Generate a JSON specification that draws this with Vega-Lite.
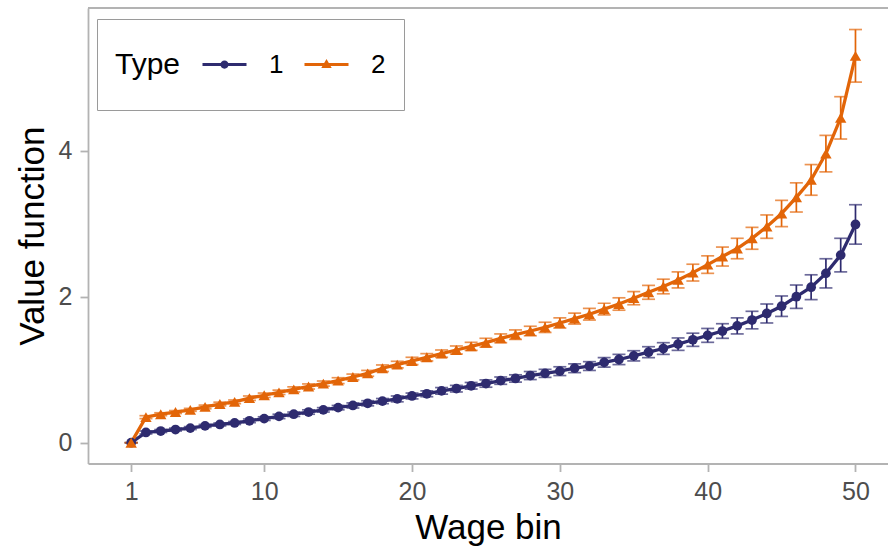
{
  "$schema": "https://vega.github.io/schema/vega-lite/v6.json",
  "width": 800,
  "height": 455.5,
  "autosize": {"type": "none"},
  "padding": {"left": 88, "top": 8, "right": 0, "bottom": 84.5},
  "background": "white",
  "config": {
    "view": {"stroke": null},
    "font": "Liberation Sans",
    "axis": {
      "grid": false,
      "domainColor": "#B3B3B3",
      "domainWidth": 1.8,
      "tickColor": "#B3B3B3",
      "tickWidth": 1.8,
      "tickSize": 8,
      "labelFontSize": 25,
      "labelColor": "#4D4D4D",
      "labelPadding": 8,
      "titleFontSize": 35,
      "titleFontWeight": "normal",
      "titleColor": "black"
    }
  },
  "data": {
    "values": [
      {"bin": 1, "type": "1", "value": 0.0, "lo": 0.0, "hi": 0.0},
      {"bin": 2, "type": "1", "value": 0.14, "lo": 0.12, "hi": 0.16},
      {"bin": 3, "type": "1", "value": 0.16, "lo": 0.14, "hi": 0.18},
      {"bin": 4, "type": "1", "value": 0.18, "lo": 0.16, "hi": 0.20},
      {"bin": 5, "type": "1", "value": 0.20, "lo": 0.18, "hi": 0.22},
      {"bin": 6, "type": "1", "value": 0.23, "lo": 0.21, "hi": 0.25},
      {"bin": 7, "type": "1", "value": 0.25, "lo": 0.23, "hi": 0.27},
      {"bin": 8, "type": "1", "value": 0.27, "lo": 0.25, "hi": 0.29},
      {"bin": 9, "type": "1", "value": 0.30, "lo": 0.275, "hi": 0.325},
      {"bin": 10, "type": "1", "value": 0.33, "lo": 0.305, "hi": 0.355},
      {"bin": 11, "type": "1", "value": 0.36, "lo": 0.33, "hi": 0.39},
      {"bin": 12, "type": "1", "value": 0.39, "lo": 0.36, "hi": 0.42},
      {"bin": 13, "type": "1", "value": 0.42, "lo": 0.39, "hi": 0.45},
      {"bin": 14, "type": "1", "value": 0.45, "lo": 0.42, "hi": 0.48},
      {"bin": 15, "type": "1", "value": 0.48, "lo": 0.45, "hi": 0.51},
      {"bin": 16, "type": "1", "value": 0.51, "lo": 0.475, "hi": 0.545},
      {"bin": 17, "type": "1", "value": 0.54, "lo": 0.505, "hi": 0.575},
      {"bin": 18, "type": "1", "value": 0.57, "lo": 0.535, "hi": 0.605},
      {"bin": 19, "type": "1", "value": 0.60, "lo": 0.56, "hi": 0.64},
      {"bin": 20, "type": "1", "value": 0.64, "lo": 0.60, "hi": 0.68},
      {"bin": 21, "type": "1", "value": 0.67, "lo": 0.63, "hi": 0.71},
      {"bin": 22, "type": "1", "value": 0.71, "lo": 0.665, "hi": 0.755},
      {"bin": 23, "type": "1", "value": 0.74, "lo": 0.695, "hi": 0.785},
      {"bin": 24, "type": "1", "value": 0.78, "lo": 0.735, "hi": 0.825},
      {"bin": 25, "type": "1", "value": 0.81, "lo": 0.76, "hi": 0.86},
      {"bin": 26, "type": "1", "value": 0.85, "lo": 0.80, "hi": 0.90},
      {"bin": 27, "type": "1", "value": 0.88, "lo": 0.83, "hi": 0.93},
      {"bin": 28, "type": "1", "value": 0.92, "lo": 0.865, "hi": 0.975},
      {"bin": 29, "type": "1", "value": 0.95, "lo": 0.895, "hi": 1.005},
      {"bin": 30, "type": "1", "value": 0.98, "lo": 0.92, "hi": 1.04},
      {"bin": 31, "type": "1", "value": 1.02, "lo": 0.96, "hi": 1.08},
      {"bin": 32, "type": "1", "value": 1.05, "lo": 0.99, "hi": 1.11},
      {"bin": 33, "type": "1", "value": 1.10, "lo": 1.035, "hi": 1.165},
      {"bin": 34, "type": "1", "value": 1.14, "lo": 1.07, "hi": 1.21},
      {"bin": 35, "type": "1", "value": 1.19, "lo": 1.12, "hi": 1.26},
      {"bin": 36, "type": "1", "value": 1.24, "lo": 1.165, "hi": 1.315},
      {"bin": 37, "type": "1", "value": 1.29, "lo": 1.21, "hi": 1.37},
      {"bin": 38, "type": "1", "value": 1.35, "lo": 1.265, "hi": 1.435},
      {"bin": 39, "type": "1", "value": 1.41, "lo": 1.32, "hi": 1.50},
      {"bin": 40, "type": "1", "value": 1.47, "lo": 1.375, "hi": 1.565},
      {"bin": 41, "type": "1", "value": 1.53, "lo": 1.43, "hi": 1.63},
      {"bin": 42, "type": "1", "value": 1.60, "lo": 1.49, "hi": 1.71},
      {"bin": 43, "type": "1", "value": 1.68, "lo": 1.56, "hi": 1.80},
      {"bin": 44, "type": "1", "value": 1.77, "lo": 1.64, "hi": 1.90},
      {"bin": 45, "type": "1", "value": 1.87, "lo": 1.73, "hi": 2.01},
      {"bin": 46, "type": "1", "value": 2.00, "lo": 1.84, "hi": 2.16},
      {"bin": 47, "type": "1", "value": 2.13, "lo": 1.96, "hi": 2.30},
      {"bin": 48, "type": "1", "value": 2.32, "lo": 2.12, "hi": 2.52},
      {"bin": 49, "type": "1", "value": 2.57, "lo": 2.34, "hi": 2.80},
      {"bin": 50, "type": "1", "value": 2.99, "lo": 2.72, "hi": 3.26},
      {"bin": 1, "type": "2", "value": 0.0, "lo": 0.0, "hi": 0.0},
      {"bin": 2, "type": "2", "value": 0.35, "lo": 0.33, "hi": 0.37},
      {"bin": 3, "type": "2", "value": 0.39, "lo": 0.37, "hi": 0.41},
      {"bin": 4, "type": "2", "value": 0.42, "lo": 0.40, "hi": 0.44},
      {"bin": 5, "type": "2", "value": 0.45, "lo": 0.43, "hi": 0.47},
      {"bin": 6, "type": "2", "value": 0.49, "lo": 0.465, "hi": 0.515},
      {"bin": 7, "type": "2", "value": 0.53, "lo": 0.505, "hi": 0.555},
      {"bin": 8, "type": "2", "value": 0.56, "lo": 0.535, "hi": 0.585},
      {"bin": 9, "type": "2", "value": 0.61, "lo": 0.58, "hi": 0.64},
      {"bin": 10, "type": "2", "value": 0.65, "lo": 0.62, "hi": 0.68},
      {"bin": 11, "type": "2", "value": 0.69, "lo": 0.66, "hi": 0.72},
      {"bin": 12, "type": "2", "value": 0.73, "lo": 0.695, "hi": 0.765},
      {"bin": 13, "type": "2", "value": 0.77, "lo": 0.735, "hi": 0.805},
      {"bin": 14, "type": "2", "value": 0.81, "lo": 0.775, "hi": 0.845},
      {"bin": 15, "type": "2", "value": 0.85, "lo": 0.81, "hi": 0.89},
      {"bin": 16, "type": "2", "value": 0.90, "lo": 0.86, "hi": 0.94},
      {"bin": 17, "type": "2", "value": 0.95, "lo": 0.91, "hi": 0.99},
      {"bin": 18, "type": "2", "value": 1.02, "lo": 0.975, "hi": 1.065},
      {"bin": 19, "type": "2", "value": 1.07, "lo": 1.025, "hi": 1.115},
      {"bin": 20, "type": "2", "value": 1.12, "lo": 1.07, "hi": 1.17},
      {"bin": 21, "type": "2", "value": 1.17, "lo": 1.12, "hi": 1.22},
      {"bin": 22, "type": "2", "value": 1.22, "lo": 1.17, "hi": 1.27},
      {"bin": 23, "type": "2", "value": 1.27, "lo": 1.215, "hi": 1.325},
      {"bin": 24, "type": "2", "value": 1.32, "lo": 1.265, "hi": 1.375},
      {"bin": 25, "type": "2", "value": 1.37, "lo": 1.31, "hi": 1.43},
      {"bin": 26, "type": "2", "value": 1.43, "lo": 1.37, "hi": 1.49},
      {"bin": 27, "type": "2", "value": 1.48, "lo": 1.415, "hi": 1.545},
      {"bin": 28, "type": "2", "value": 1.53, "lo": 1.465, "hi": 1.595},
      {"bin": 29, "type": "2", "value": 1.58, "lo": 1.51, "hi": 1.65},
      {"bin": 30, "type": "2", "value": 1.64, "lo": 1.57, "hi": 1.71},
      {"bin": 31, "type": "2", "value": 1.70, "lo": 1.625, "hi": 1.775},
      {"bin": 32, "type": "2", "value": 1.76, "lo": 1.68, "hi": 1.84},
      {"bin": 33, "type": "2", "value": 1.83, "lo": 1.75, "hi": 1.91},
      {"bin": 34, "type": "2", "value": 1.90, "lo": 1.815, "hi": 1.985},
      {"bin": 35, "type": "2", "value": 1.98, "lo": 1.89, "hi": 2.07},
      {"bin": 36, "type": "2", "value": 2.06, "lo": 1.965, "hi": 2.155},
      {"bin": 37, "type": "2", "value": 2.14, "lo": 2.04, "hi": 2.24},
      {"bin": 38, "type": "2", "value": 2.23, "lo": 2.12, "hi": 2.34},
      {"bin": 39, "type": "2", "value": 2.33, "lo": 2.215, "hi": 2.445},
      {"bin": 40, "type": "2", "value": 2.44, "lo": 2.32, "hi": 2.56},
      {"bin": 41, "type": "2", "value": 2.55, "lo": 2.42, "hi": 2.68},
      {"bin": 42, "type": "2", "value": 2.66, "lo": 2.52, "hi": 2.80},
      {"bin": 43, "type": "2", "value": 2.80, "lo": 2.65, "hi": 2.95},
      {"bin": 44, "type": "2", "value": 2.96, "lo": 2.80, "hi": 3.12},
      {"bin": 45, "type": "2", "value": 3.14, "lo": 2.96, "hi": 3.32},
      {"bin": 46, "type": "2", "value": 3.36, "lo": 3.16, "hi": 3.56},
      {"bin": 47, "type": "2", "value": 3.60, "lo": 3.39, "hi": 3.81},
      {"bin": 48, "type": "2", "value": 3.96, "lo": 3.71, "hi": 4.21},
      {"bin": 49, "type": "2", "value": 4.45, "lo": 4.16, "hi": 4.74},
      {"bin": 50, "type": "2", "value": 5.30, "lo": 4.94, "hi": 5.66}
    ]
  },
  "layer": [
    {
      "mark": {"type": "rule", "color": "#B3B3B3", "strokeWidth": 1.8},
      "encoding": {
        "y": {"datum": 5.955, "type": "quantitative", "title": "Value function"}
      }
    },
    {
      "mark": {
        "type": "errorbar",
        "ticks": {"size": 13, "thickness": 1.7},
        "rule": {"strokeWidth": 1.7}
      },
      "encoding": {
        "x": {"field": "bin", "type": "quantitative", "title": "Wage bin"},
        "y": {"field": "lo", "type": "quantitative", "title": "Value function"},
        "y2": {"field": "hi"},
        "color": {"field": "type", "type": "nominal"}
      }
    },
    {
      "mark": {"type": "line", "strokeWidth": 3.3},
      "encoding": {
        "x": {
          "field": "bin",
          "type": "quantitative",
          "title": "Wage bin",
          "scale": {"domain": [-1.92, 52.2], "nice": false, "zero": false},
          "axis": {"values": [1, 10, 20, 30, 40, 50], "titlePadding": 6}
        },
        "y": {
          "field": "value",
          "type": "quantitative",
          "title": "Value function",
          "scale": {"domain": [-0.285, 5.955], "nice": false, "zero": false},
          "axis": {"values": [0, 2, 4], "format": "d", "titlePadding": 8}
        },
        "color": {
          "field": "type",
          "type": "nominal",
          "scale": {"domain": ["1", "2"], "range": ["#2E2B6F", "#E26508"]},
          "legend": {
            "orient": "none",
            "legendX": 9,
            "legendY": 11,
            "direction": "horizontal",
            "title": "Type",
            "titleOrient": "left",
            "titleAnchor": "middle",
            "titleBaseline": "middle",
            "titleFontSize": 30,
            "titleFontWeight": "normal",
            "titleColor": "black",
            "titlePadding": 16,
            "labelFontSize": 26,
            "labelColor": "black",
            "labelOffset": 17,
            "columnPadding": 15,
            "padding": 18,
            "strokeColor": "#9A9A9A",
            "symbolSize": 3025,
            "encode": {
              "symbols": {
                "update": {
                  "shape": {"signal": "datum.label === '1' ? 'M0,-1L0,-1M0,1L0,1M-0.8,-0.055H0.8V0.055H-0.8Z M-0.15,0A0.15,0.15,0,1,1,0.15,0A0.15,0.15,0,1,1,-0.15,0Z' : 'M0,-1L0,-1M0,1L0,1M-0.8,-0.055H0.8V0.055H-0.8Z M0,-0.2L0.19,0.13H-0.19Z'"},
                  "fill": {"signal": "datum.label === '1' ? '#2E2B6F' : '#E26508'"},
                  "stroke": {"value": "transparent"},
                  "strokeWidth": {"value": 0},
                  "opacity": {"value": 1},
                  "fillOpacity": {"value": 1}
                }
              }
            }
          }
        }
      }
    },
    {
      "transform": [{"filter": "datum.type === '1'"}],
      "mark": {"type": "point", "shape": "circle", "filled": true, "opacity": 1, "size": 95},
      "encoding": {
        "x": {"field": "bin", "type": "quantitative", "title": "Wage bin"},
        "y": {"field": "value", "type": "quantitative", "title": "Value function"},
        "color": {"field": "type", "type": "nominal"}
      }
    },
    {
      "transform": [{"filter": "datum.type === '2'"}],
      "mark": {"type": "point", "shape": "triangle-up", "filled": true, "opacity": 1, "size": 130},
      "encoding": {
        "x": {"field": "bin", "type": "quantitative", "title": "Wage bin"},
        "y": {"field": "value", "type": "quantitative", "title": "Value function"},
        "color": {"field": "type", "type": "nominal"}
      }
    }
  ]
}
